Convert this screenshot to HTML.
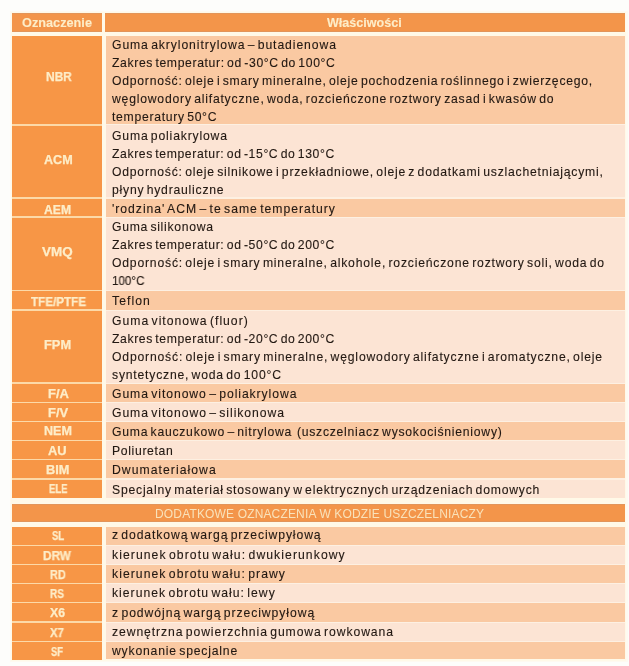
<!DOCTYPE html>
<html><head><meta charset="utf-8"><style>
html,body{margin:0;padding:0;}
body{width:629px;height:666px;overflow:hidden;background:#fdfdfb;position:relative;font-family:"Liberation Sans",sans-serif;}
.r{position:absolute;}
.t{position:absolute;white-space:pre;line-height:20px;transform-origin:0 0;will-change:transform;}
.b{-webkit-text-stroke:0.12px;}
.lb{-webkit-text-stroke:0.25px;}
.hb{-webkit-text-stroke:0.1px;}
</style></head><body>
<div class="r" style="left:10.00px;top:11.00px;width:618.00px;height:651.00px;background:#fefaf1;"></div>
<div class="r" style="left:11.00px;top:12.00px;width:615.00px;height:649.00px;background:#fff9e8;"></div>
<div class="r" style="left:12.00px;top:13.00px;width:90.40px;height:18.80px;background:#f3954a;"></div>
<div class="r" style="left:104.80px;top:13.00px;width:520.20px;height:18.80px;background:#f3954a;"></div>
<div class="r" style="left:12.00px;top:13.00px;width:613.00px;height:1.00px;background:#e2955a;"></div>
<div class="r" style="left:12.00px;top:30.80px;width:613.00px;height:1.00px;background:#e2955a;"></div>
<div class="r" style="left:102.40px;top:13.00px;width:2.40px;height:18.80px;background:#fff9e8;"></div>
<div class="r" style="left:12.00px;top:35.80px;width:90.00px;height:462.00px;background:#f79646;"></div>
<div class="r" style="left:106.00px;top:35.80px;width:519.00px;height:89.00px;background:#fac9a2;"></div>
<div class="r" style="left:106.00px;top:124.80px;width:519.00px;height:73.20px;background:#fce4d4;"></div>
<div class="r" style="left:106.00px;top:198.00px;width:519.00px;height:19.20px;background:#fac9a2;"></div>
<div class="r" style="left:106.00px;top:217.20px;width:519.00px;height:73.20px;background:#fce4d4;"></div>
<div class="r" style="left:106.00px;top:290.40px;width:519.00px;height:19.80px;background:#fac9a2;"></div>
<div class="r" style="left:106.00px;top:310.20px;width:519.00px;height:73.00px;background:#fce4d4;"></div>
<div class="r" style="left:106.00px;top:383.20px;width:519.00px;height:19.20px;background:#fac9a2;"></div>
<div class="r" style="left:106.00px;top:402.40px;width:519.00px;height:19.10px;background:#fce4d4;"></div>
<div class="r" style="left:106.00px;top:421.50px;width:519.00px;height:19.00px;background:#fac9a2;"></div>
<div class="r" style="left:106.00px;top:440.50px;width:519.00px;height:19.20px;background:#fce4d4;"></div>
<div class="r" style="left:106.00px;top:459.70px;width:519.00px;height:19.30px;background:#fac9a2;"></div>
<div class="r" style="left:106.00px;top:479.00px;width:519.00px;height:18.80px;background:#fce4d4;"></div>
<div class="r" style="left:12.00px;top:124.05px;width:90.00px;height:1.50px;background:#fcd9a8;"></div>
<div class="r" style="left:106.00px;top:124.20px;width:519.00px;height:1.20px;background:#fdf0e2;"></div>
<div class="r" style="left:12.00px;top:197.25px;width:90.00px;height:1.50px;background:#fcd9a8;"></div>
<div class="r" style="left:106.00px;top:197.40px;width:519.00px;height:1.20px;background:#fdf0e2;"></div>
<div class="r" style="left:12.00px;top:216.45px;width:90.00px;height:1.50px;background:#fcd9a8;"></div>
<div class="r" style="left:106.00px;top:216.60px;width:519.00px;height:1.20px;background:#fdf0e2;"></div>
<div class="r" style="left:12.00px;top:289.65px;width:90.00px;height:1.50px;background:#fcd9a8;"></div>
<div class="r" style="left:106.00px;top:289.80px;width:519.00px;height:1.20px;background:#fdf0e2;"></div>
<div class="r" style="left:12.00px;top:309.45px;width:90.00px;height:1.50px;background:#fcd9a8;"></div>
<div class="r" style="left:106.00px;top:309.60px;width:519.00px;height:1.20px;background:#fdf0e2;"></div>
<div class="r" style="left:12.00px;top:382.45px;width:90.00px;height:1.50px;background:#fcd9a8;"></div>
<div class="r" style="left:106.00px;top:382.60px;width:519.00px;height:1.20px;background:#fdf0e2;"></div>
<div class="r" style="left:12.00px;top:401.65px;width:90.00px;height:1.50px;background:#fcd9a8;"></div>
<div class="r" style="left:106.00px;top:401.80px;width:519.00px;height:1.20px;background:#fdf0e2;"></div>
<div class="r" style="left:12.00px;top:420.75px;width:90.00px;height:1.50px;background:#fcd9a8;"></div>
<div class="r" style="left:106.00px;top:420.90px;width:519.00px;height:1.20px;background:#fdf0e2;"></div>
<div class="r" style="left:12.00px;top:439.75px;width:90.00px;height:1.50px;background:#fcd9a8;"></div>
<div class="r" style="left:106.00px;top:439.90px;width:519.00px;height:1.20px;background:#fdf0e2;"></div>
<div class="r" style="left:12.00px;top:458.95px;width:90.00px;height:1.50px;background:#fcd9a8;"></div>
<div class="r" style="left:106.00px;top:459.10px;width:519.00px;height:1.20px;background:#fdf0e2;"></div>
<div class="r" style="left:12.00px;top:478.25px;width:90.00px;height:1.50px;background:#fcd9a8;"></div>
<div class="r" style="left:106.00px;top:478.40px;width:519.00px;height:1.20px;background:#fdf0e2;"></div>
<div class="r" style="left:12.00px;top:503.80px;width:613.00px;height:18.30px;background:#f3954a;"></div>
<div class="r" style="left:12.00px;top:503.80px;width:613.00px;height:1.00px;background:#e2955a;"></div>
<div class="r" style="left:12.00px;top:521.10px;width:613.00px;height:1.00px;background:#e2955a;"></div>
<div class="r" style="left:12.00px;top:527.00px;width:90.00px;height:132.50px;background:#f79646;"></div>
<div class="r" style="left:106.00px;top:527.00px;width:519.00px;height:18.30px;background:#fac9a2;"></div>
<div class="r" style="left:106.00px;top:545.30px;width:519.00px;height:19.20px;background:#fce4d4;"></div>
<div class="r" style="left:106.00px;top:564.50px;width:519.00px;height:18.90px;background:#fac9a2;"></div>
<div class="r" style="left:106.00px;top:583.40px;width:519.00px;height:19.00px;background:#fce4d4;"></div>
<div class="r" style="left:106.00px;top:602.40px;width:519.00px;height:19.70px;background:#fac9a2;"></div>
<div class="r" style="left:106.00px;top:622.10px;width:519.00px;height:19.20px;background:#fce4d4;"></div>
<div class="r" style="left:106.00px;top:641.30px;width:519.00px;height:18.20px;background:#fac9a2;"></div>
<div class="r" style="left:12.00px;top:544.55px;width:90.00px;height:1.50px;background:#fcd9a8;"></div>
<div class="r" style="left:106.00px;top:544.70px;width:519.00px;height:1.20px;background:#fdf0e2;"></div>
<div class="r" style="left:12.00px;top:563.75px;width:90.00px;height:1.50px;background:#fcd9a8;"></div>
<div class="r" style="left:106.00px;top:563.90px;width:519.00px;height:1.20px;background:#fdf0e2;"></div>
<div class="r" style="left:12.00px;top:582.65px;width:90.00px;height:1.50px;background:#fcd9a8;"></div>
<div class="r" style="left:106.00px;top:582.80px;width:519.00px;height:1.20px;background:#fdf0e2;"></div>
<div class="r" style="left:12.00px;top:601.65px;width:90.00px;height:1.50px;background:#fcd9a8;"></div>
<div class="r" style="left:106.00px;top:601.80px;width:519.00px;height:1.20px;background:#fdf0e2;"></div>
<div class="r" style="left:12.00px;top:621.35px;width:90.00px;height:1.50px;background:#fcd9a8;"></div>
<div class="r" style="left:106.00px;top:621.50px;width:519.00px;height:1.20px;background:#fdf0e2;"></div>
<div class="r" style="left:12.00px;top:640.55px;width:90.00px;height:1.50px;background:#fcd9a8;"></div>
<div class="r" style="left:106.00px;top:640.70px;width:519.00px;height:1.20px;background:#fdf0e2;"></div>
<!--hdr-->
<div class="t hb" style="top:13.14px;font-size:12.0px;color:#fdedc8;font-weight:bold;left:22.40px;transform:scaleX(1.0598);">Oznaczenie</div>
<div class="t hb" style="top:12.84px;font-size:12.0px;color:#fdedc8;font-weight:bold;left:326.70px;transform:scaleX(1.0470);">Właściwości</div>
<div class="t lb" style="top:66.64px;font-size:12.0px;color:#fdedc8;font-weight:bold;left:45.70px;transform:scaleX(0.9923);">NBR</div>
<div class="t b" style="top:34.97px;font-size:12.2px;color:#221812;left:111.90px;letter-spacing:0.902px;word-spacing:-1.902px;">Guma akrylonitrylowa – butadienowa</div>
<div class="t b" style="top:52.97px;font-size:12.2px;color:#221812;left:111.90px;letter-spacing:0.633px;word-spacing:-1.633px;">Zakres temperatur: od -30°C do 100°C</div>
<div class="t b" style="top:70.97px;font-size:12.2px;color:#221812;left:111.90px;letter-spacing:0.758px;word-spacing:-1.758px;">Odporność: oleje i smary mineralne, oleje pochodzenia roślinnego i zwierzęcego,</div>
<div class="t b" style="top:88.97px;font-size:12.2px;color:#221812;left:111.95px;letter-spacing:0.786px;word-spacing:-1.786px;">węglowodory alifatyczne, woda, rozcieńczone roztwory zasad i kwasów do</div>
<div class="t b" style="top:106.97px;font-size:12.2px;color:#221812;left:111.90px;letter-spacing:0.704px;word-spacing:-1.704px;">temperatury 50°C</div>
<div class="t lb" style="top:149.74px;font-size:12.0px;color:#fdedc8;font-weight:bold;left:43.50px;transform:scaleX(1.0494);">ACM</div>
<div class="t b" style="top:125.57px;font-size:12.2px;color:#221812;left:111.90px;letter-spacing:0.823px;word-spacing:-1.823px;">Guma poliakrylowa</div>
<div class="t b" style="top:143.57px;font-size:12.2px;color:#221812;left:111.90px;letter-spacing:0.613px;word-spacing:-1.613px;">Zakres temperatur: od -15°C do 130°C</div>
<div class="t b" style="top:161.57px;font-size:12.2px;color:#221812;left:111.90px;letter-spacing:0.775px;word-spacing:-1.775px;">Odporność: oleje silnikowe i przekładniowe, oleje z dodatkami uszlachetniającymi,</div>
<div class="t b" style="top:179.57px;font-size:12.2px;color:#221812;left:111.90px;letter-spacing:0.772px;word-spacing:-1.772px;">płyny hydrauliczne</div>
<div class="t lb" style="top:199.74px;font-size:12.0px;color:#fdedc8;font-weight:bold;left:44.20px;transform:scaleX(1.0131);">AEM</div>
<div class="t b" style="top:198.77px;font-size:12.2px;color:#221812;left:111.90px;letter-spacing:0.971px;word-spacing:-1.971px;">'rodzina' ACM – te same temperatury</div>
<div class="t lb" style="top:241.64px;font-size:12.0px;color:#fdedc8;font-weight:bold;left:42.30px;transform:scaleX(1.1188);">VMQ</div>
<div class="t b" style="top:217.17px;font-size:12.2px;color:#221812;left:111.90px;letter-spacing:0.708px;word-spacing:-1.708px;">Guma silikonowa</div>
<div class="t b" style="top:235.17px;font-size:12.2px;color:#221812;left:111.90px;letter-spacing:0.613px;word-spacing:-1.613px;">Zakres temperatur: od -50°C do 200°C</div>
<div class="t b" style="top:253.17px;font-size:12.2px;color:#221812;left:111.90px;letter-spacing:0.796px;word-spacing:-1.796px;">Odporność: oleje i smary mineralne, alkohole, rozcieńczone roztwory soli, woda do</div>
<div class="t b" style="top:271.17px;font-size:12.2px;color:#221812;word-spacing:-1.30px;left:111.90px;transform:scaleX(0.9545);">100°C</div>
<div class="t lb" style="top:291.54px;font-size:12.0px;color:#fdedc8;font-weight:bold;left:31.20px;transform:scaleX(0.9709);">TFE/PTFE</div>
<div class="t b" style="top:290.97px;font-size:12.2px;color:#221812;left:111.90px;letter-spacing:1.070px;word-spacing:-2.070px;">Teflon</div>
<div class="t lb" style="top:335.14px;font-size:12.0px;color:#fdedc8;font-weight:bold;left:44.40px;transform:scaleX(1.0690);">FPM</div>
<div class="t b" style="top:310.57px;font-size:12.2px;color:#221812;left:111.90px;letter-spacing:0.992px;word-spacing:-1.992px;">Guma vitonowa (fluor)</div>
<div class="t b" style="top:328.57px;font-size:12.2px;color:#221812;left:111.90px;letter-spacing:0.613px;word-spacing:-1.613px;">Zakres temperatur: od -20°C do 200°C</div>
<div class="t b" style="top:346.57px;font-size:12.2px;color:#221812;left:111.90px;letter-spacing:0.810px;word-spacing:-1.810px;">Odporność: oleje i smary mineralne, węglowodory alifatyczne i aromatyczne, oleje</div>
<div class="t b" style="top:364.57px;font-size:12.2px;color:#221812;left:111.90px;letter-spacing:0.789px;word-spacing:-1.789px;">syntetyczne, woda do 100°C</div>
<div class="t lb" style="top:383.84px;font-size:12.0px;color:#fdedc8;font-weight:bold;left:48.10px;transform:scaleX(1.0853);">F/A</div>
<div class="t b" style="top:383.77px;font-size:12.2px;color:#221812;left:111.90px;letter-spacing:0.923px;word-spacing:-1.923px;">Guma vitonowo – poliakrylowa</div>
<div class="t lb" style="top:402.84px;font-size:12.0px;color:#fdedc8;font-weight:bold;left:48.10px;transform:scaleX(1.0777);">F/V</div>
<div class="t b" style="top:402.97px;font-size:12.2px;color:#221812;left:111.90px;letter-spacing:0.932px;word-spacing:-1.932px;">Guma vitonowo – silikonowa</div>
<div class="t lb" style="top:421.44px;font-size:12.0px;color:#fdedc8;font-weight:bold;left:44.10px;transform:scaleX(1.0469);">NEM</div>
<div class="t b" style="top:422.07px;font-size:12.2px;color:#221812;left:111.90px;letter-spacing:0.744px;word-spacing:-1.744px;">Guma kauczukowo – nitrylowa  (uszczelniacz wysokociśnieniowy)</div>
<div class="t lb" style="top:441.34px;font-size:12.0px;color:#fdedc8;font-weight:bold;left:48.10px;transform:scaleX(1.0720);">AU</div>
<div class="t b" style="top:441.07px;font-size:12.2px;color:#221812;left:111.90px;letter-spacing:0.656px;word-spacing:-1.656px;">Poliuretan</div>
<div class="t lb" style="top:459.94px;font-size:12.0px;color:#fdedc8;font-weight:bold;left:45.70px;transform:scaleX(1.0636);">BIM</div>
<div class="t b" style="top:460.27px;font-size:12.2px;color:#221812;left:111.90px;letter-spacing:1.046px;word-spacing:-2.046px;">Dwumateriałowa</div>
<div class="t lb" style="top:479.44px;font-size:12.0px;color:#fdedc8;font-weight:bold;left:48.60px;transform:scaleX(0.7966);">ELE</div>
<div class="t b" style="top:479.57px;font-size:12.2px;color:#221812;left:111.90px;letter-spacing:0.777px;word-spacing:-1.777px;">Specjalny materiał stosowany w elektrycznych urządzeniach domowych</div>
<div class="t" style="top:503.94px;font-size:12.0px;color:#f9e2ba;left:155.00px;letter-spacing:0.155px;">DODATKOWE OZNACZENIA W KODZIE USZCZELNIACZY</div>
<div class="t lb" style="top:525.64px;font-size:12.0px;color:#fdedc8;font-weight:bold;left:51.50px;transform:scaleX(0.7883);">SL</div>
<div class="t b" style="top:525.27px;font-size:12.2px;color:#221812;left:111.90px;letter-spacing:0.887px;word-spacing:-1.887px;">z dodatkową wargą przeciwpyłową</div>
<div class="t lb" style="top:545.84px;font-size:12.0px;color:#fdedc8;font-weight:bold;left:43.10px;transform:scaleX(0.9807);">DRW</div>
<div class="t b" style="top:545.37px;font-size:12.2px;color:#221812;left:111.90px;letter-spacing:1.069px;word-spacing:-2.069px;">kierunek obrotu wału: dwukierunkowy</div>
<div class="t lb" style="top:565.34px;font-size:12.0px;color:#fdedc8;font-weight:bold;left:49.50px;transform:scaleX(0.9049);">RD</div>
<div class="t b" style="top:564.37px;font-size:12.2px;color:#221812;left:111.90px;letter-spacing:1.052px;word-spacing:-2.052px;">kierunek obrotu wału: prawy</div>
<div class="t lb" style="top:584.14px;font-size:12.0px;color:#fdedc8;font-weight:bold;left:50.40px;transform:scaleX(0.8348);">RS</div>
<div class="t b" style="top:583.47px;font-size:12.2px;color:#221812;left:111.90px;letter-spacing:1.007px;word-spacing:-2.007px;">kierunek obrotu wału: lewy</div>
<div class="t lb" style="top:603.04px;font-size:12.0px;color:#fdedc8;font-weight:bold;left:49.80px;transform:scaleX(1.0272);">X6</div>
<div class="t b" style="top:602.77px;font-size:12.2px;color:#221812;left:111.90px;letter-spacing:0.937px;word-spacing:-1.937px;">z podwójną wargą przeciwpyłową</div>
<div class="t lb" style="top:622.64px;font-size:12.0px;color:#fdedc8;font-weight:bold;left:49.80px;transform:scaleX(0.9456);">X7</div>
<div class="t b" style="top:622.07px;font-size:12.2px;color:#221812;left:111.90px;letter-spacing:0.908px;word-spacing:-1.908px;">zewnętrzna powierzchnia gumowa rowkowana</div>
<div class="t lb" style="top:641.84px;font-size:12.0px;color:#fdedc8;font-weight:bold;left:51.00px;transform:scaleX(0.7818);">SF</div>
<div class="t b" style="top:641.27px;font-size:12.2px;color:#221812;left:111.95px;letter-spacing:0.809px;word-spacing:-1.809px;">wykonanie specjalne</div>
</body></html>
